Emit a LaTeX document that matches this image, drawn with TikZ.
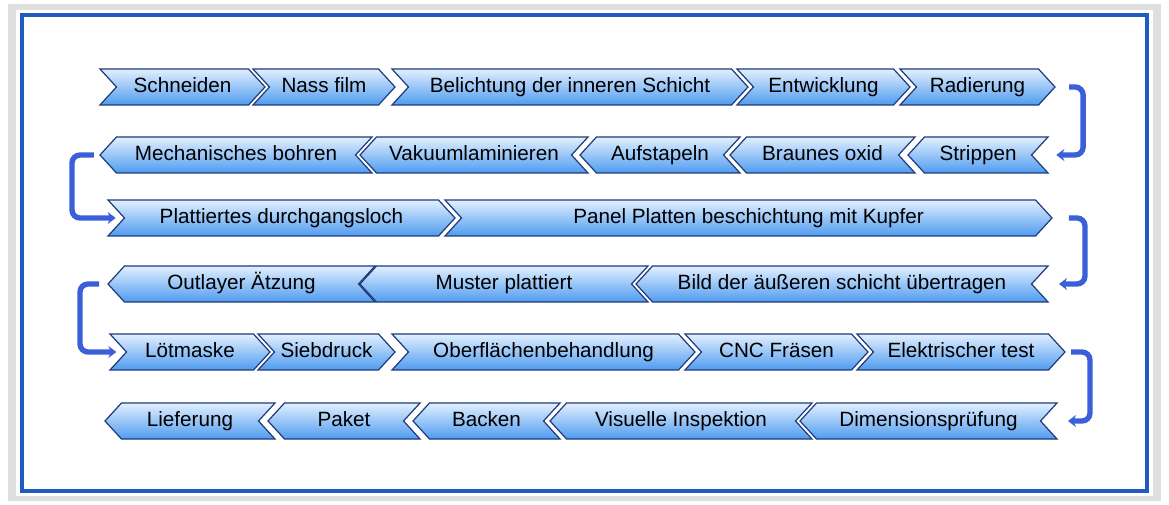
\documentclass[tikz,border=0pt]{standalone}
\usepackage{fontspec}
\setmainfont{Liberation Sans}
\usetikzlibrary{shapes.symbols,arrows.meta}
\definecolor{navy}{HTML}{1F3A7A}
\definecolor{ltop}{HTML}{E2F0FF}
\definecolor{lbot}{HTML}{4F9BEF}
\definecolor{frameblue}{HTML}{1F5BC0}
\definecolor{arrblue}{HTML}{3A5FD8}
\tikzset{
  chevbox/.style={shape=signal, draw=navy, line width=0.9pt, top color=ltop, bottom color=lbot,
    minimum height=27pt, inner xsep=2pt, inner ysep=0pt, signal pointer angle=95,
    text height=11pt, text depth=3pt,
    font=\fontsize{15.5}{17}\selectfont, text=black},
  toE/.style={signal to=east, signal from=west},
  toW/.style={signal to=west, signal from=east},
  retarrow/.style={draw=arrblue, line width=4pt, rounded corners=6pt, -{Stealth[length=6pt,width=9pt]}}
}
\newcommand\chev[6]{\node[chevbox,#5,minimum width={(#3-#2)*0.75pt}] (#1) at ({(#2+#3)/2},#4) {#6};}
\begin{document}
\begin{tikzpicture}[x=0.75pt,y=-0.75pt]
\useasboundingbox (0,0) rectangle (1169,505);
\fill[gray!25] (8,4) rectangle (1161,501);
\fill[white] (16,10) rectangle (1153,496);
\draw[frameblue, line width=3pt] (22,15) rectangle (1147,491);
% row 1
\chev{a1}{100}{265}{87}{toE}{Schneiden}
\chev{a2}{253}{395}{87}{toE}{Nass film}
\chev{a3}{392}{748}{87}{toE}{Belichtung der inneren Schicht}
\chev{a4}{737}{910}{87}{toE}{Entwicklung}
\chev{a5}{900}{1055}{87}{toE}{Radierung}
% row 2
\chev{b1}{100}{372}{155}{toW}{Mechanisches bohren}
\chev{b2}{360}{588}{155}{toW}{Vakuumlaminieren}
\chev{b3}{580}{740}{155}{toW}{Aufstapeln}
\chev{b4}{730}{915}{155}{toW}{Braunes oxid}
\chev{b5}{908}{1048}{155}{toW}{Strippen}
% row 3
\chev{c1}{108}{455}{218}{toE}{Plattiertes durchgangsloch}
\chev{c2}{445}{1052}{218}{toE}{Panel Platten beschichtung mit Kupfer}
% row 4
\chev{d1}{108}{375}{284}{toW}{Outlayer Ätzung}
\chev{d2}{360}{648}{284}{toW}{Muster plattiert}
\chev{d3}{636}{1048}{284}{toW}{Bild der äußeren schicht übertragen}
% row 5
\chev{e1}{110}{270}{352}{toE}{Lötmaske}
\chev{e2}{258}{395}{352}{toE}{Siebdruck}
\chev{e3}{392}{695}{352}{toE}{Oberflächenbehandlung}
\chev{e4}{685}{868}{352}{toE}{CNC Fräsen}
\chev{e5}{857}{1065}{352}{toE}{Elektrischer test}
% row 6
\chev{f1}{105}{275}{421}{toW}{Lieferung}
\chev{f2}{268}{420}{421}{toW}{Paket}
\chev{f3}{413}{560}{421}{toW}{Backen}
\chev{f4}{550}{812}{421}{toW}{Visuelle Inspektion}
\chev{f5}{800}{1057}{421}{toW}{Dimensionsprüfung}
% return arrows
\draw[retarrow] ([xshift=10pt]a5.east) -- ++(14,0) |- ([xshift=18pt]b5.east);
\draw[retarrow] ([xshift=-4pt]b1.west) -- (72,155) |- ([xshift=-6pt]c1.west);
\draw[retarrow] ([xshift=12pt]c2.east) -- (1085,218) |- ([xshift=20pt]d3.east);
\draw[retarrow] ([xshift=-6pt]d1.west) -- (80,284) |- ([xshift=-7pt]e1.west);
\draw[retarrow] ([xshift=4pt]e5.east) -- (1090,352) |- ([xshift=20pt]f5.east);
\end{tikzpicture}
\end{document}
